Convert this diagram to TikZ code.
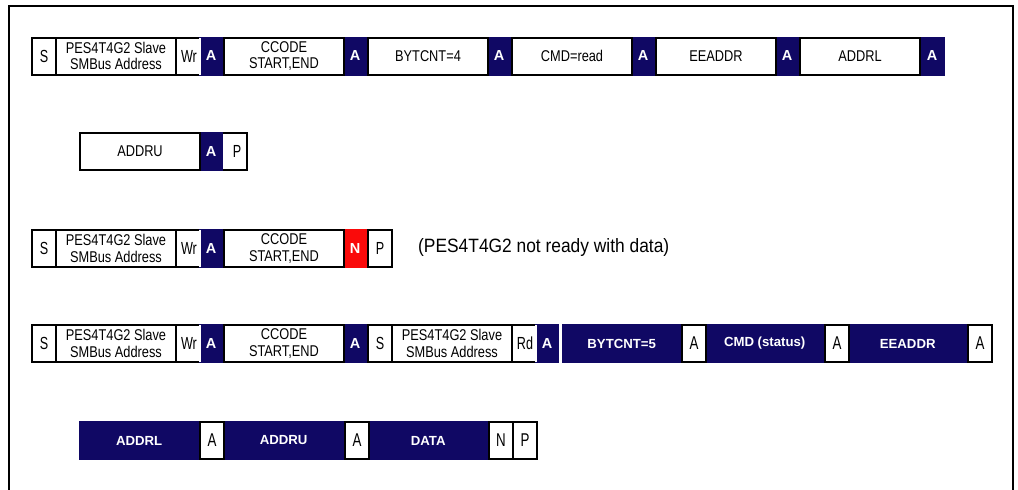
\documentclass[tikz,border=0pt]{standalone}
\usepackage{fontspec}
\setmainfont{Liberation Sans}
\newfontfamily\nf[FakeStretch=0.82]{Liberation Sans}
\newfontfamily\slimf[FakeStretch=0.72]{Liberation Sans}
\newfontfamily\wf[FakeStretch=0.9]{Liberation Sans}
\definecolor{navy}{RGB}{16,8,100}
\definecolor{nred}{RGB}{250,10,10}
\begin{document}
\begin{tikzpicture}[x=1pt,y=-1pt,
  cellw/.style={draw=black, line width=2pt, fill=white, inner sep=0pt, minimum height=37pt, anchor=west, font=\nf\fontsize{15.6}{16.8}\selectfont, align=center},
  letw/.style={cellw, font=\slimf\fontsize{17.5}{17.5}\selectfont},
  celld/.style={fill=navy, text=white, inner sep=0pt, minimum height=39pt, anchor=west, font=\bfseries\fontsize{13.2}{13}\selectfont},
  ackd/.style={celld, font=\bfseries\fontsize{14.5}{14}\selectfont},
  ackr/.style={ackd, fill=nred},
  ackw/.style={cellw, font=\slimf\fontsize{18.5}{18.5}\selectfont},
  note/.style={anchor=west, inner sep=0pt, font=\wf\fontsize{19.3}{19.3}\selectfont}]
\useasboundingbox (0,0) rectangle (1018,490);
\draw[line width=2pt] (9,491) -- (9,5.5) -- (1012.5,5.5) -- (1012.5,491);

% Row 1
\node[ackd, minimum width=24pt] (a1a) at (199,56) {A};
\node[ackd, minimum width=24pt] (a1b) at (343,56) {A};
\node[ackd, minimum width=24pt] (a1c) at (487,56) {A};
\node[ackd, minimum width=24pt] (a1d) at (631,56) {A};
\node[ackd, minimum width=24pt] (a1e) at (775,56) {A};
\node[ackd, minimum width=26pt] (a1f) at (919,56) {A};
\node[letw, minimum width=24pt] (s1) at (31,56) {S};
\node[cellw, minimum width=120pt] (pa1) at (55,56) {PES4T4G2 Slave\\SMBus Address};
\node[letw, minimum width=24pt, draw=none] (wr1) at (176,56) {Wr};
\draw[line width=2pt] (175,37.5) -- (199,37.5) (175,74.5) -- (199,74.5);
\node[cellw, minimum width=120pt] (cc1) at (223,56) {CCODE\\START,END};
\node[cellw, minimum width=120pt] (bc1) at (367,56) {BYTCNT=4};
\node[cellw, minimum width=120pt] (cmd1) at (511,56) {CMD=read};
\node[cellw, minimum width=120pt] (ee1) at (655,56) {EEADDR};
\node[cellw, minimum width=120pt] (al1) at (799,56) {ADDRL};

% Row 2
\node[ackd, minimum width=24pt] (a2) at (199,151.5) {A};
\node[cellw, minimum width=120pt] (au2) at (79,151.5) {ADDRU};
\node[letw, minimum width=24pt, draw=none] (p2) at (224,151.5) {P};
\draw[line width=2pt] (223,133) -- (247,133) -- (247,170) -- (223,170);

% Row 3
\node[ackd, minimum width=24pt] (a3) at (199,248.5) {A};
\node[ackr, minimum width=24pt] (n3) at (343,248.5) {N};
\node[letw, minimum width=24pt] (s3) at (31,248.5) {S};
\node[cellw, minimum width=120pt] (pa3) at (55,248.5) {PES4T4G2 Slave\\SMBus Address};
\node[letw, minimum width=24pt, draw=none] (wr3) at (176,248.5) {Wr};
\draw[line width=2pt] (175,230) -- (199,230) (175,267) -- (199,267);
\node[cellw, minimum width=120pt] (cc3) at (223,248.5) {CCODE\\START,END};
\node[letw, minimum width=24pt] (p3) at (367,248.5) {P};
\node[note] (txt3) at (418,248) {(PES4T4G2 not ready with data)};

% Row 4
\node[ackd, minimum width=24pt] (a4a) at (199,343.5) {A};
\node[ackd, minimum width=24pt] (a4b) at (343,343.5) {A};
\node[ackd, minimum width=24pt] (a4c) at (535,343.5) {A};
\node[celld, minimum width=119pt] (bc4) at (562,343.5) {BYTCNT=5};
\node[celld, minimum width=119pt] (cmd4) at (705,343.5) {CMD (status)};
\node[celld, minimum width=119pt] (ee4) at (848,343.5) {EEADDR};
\node[letw, minimum width=24pt] (s4) at (31,343.5) {S};
\node[cellw, minimum width=120pt] (pa4) at (55,343.5) {PES4T4G2 Slave\\SMBus Address};
\node[letw, minimum width=24pt, draw=none] (wr4) at (176,343.5) {Wr};
\draw[line width=2pt] (175,325) -- (199,325) (175,362) -- (199,362);
\node[cellw, minimum width=120pt] (cc4) at (223,343.5) {CCODE\\START,END};
\node[letw, minimum width=24pt] (s4b) at (367,343.5) {S};
\node[cellw, minimum width=120pt] (pb4) at (391,343.5) {PES4T4G2 Slave\\SMBus Address};
\node[letw, minimum width=24pt, draw=none] (rd4) at (512,343.5) {Rd};
\draw[line width=2pt] (511,325) -- (535,325) (511,362) -- (535,362);
\node[ackw, minimum width=24pt] (a4d) at (681,343.5) {A};
\node[ackw, minimum width=24pt] (a4e) at (824,343.5) {A};
\node[ackw, minimum width=24pt] (a4f) at (967,343.5) {A};

% Row 5
\node[celld, minimum width=120pt] (al5) at (79,440.5) {ADDRL};
\node[celld, minimum width=121pt] (au5) at (223,440.5) {ADDRU};
\node[celld, minimum width=120pt] (dt5) at (368,440.5) {DATA};
\node[ackw, minimum width=24pt] (a5a) at (199,440.5) {A};
\node[ackw, minimum width=24pt] (a5b) at (344,440.5) {A};
\node[ackw, minimum width=24pt] (n5) at (488,440.5) {N};
\node[ackw, minimum width=24pt] (p5) at (512,440.5) {P};
\end{tikzpicture}
\end{document}
